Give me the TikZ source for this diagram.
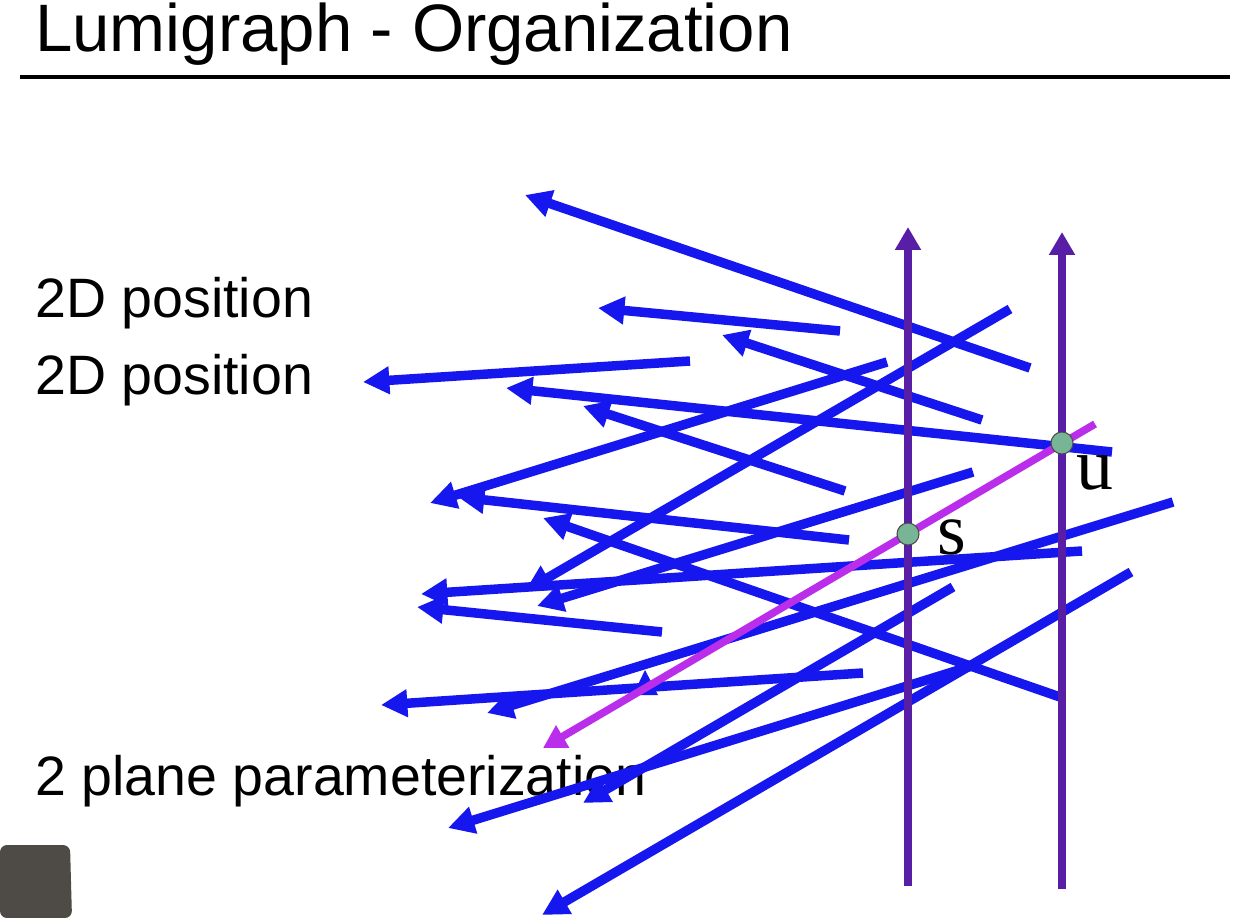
\documentclass[tikz,border=0pt]{standalone}
\usepackage{fontspec}
\setmainfont{Liberation Sans}
\newfontfamily\lfserif{Liberation Serif}
\usetikzlibrary{arrows.meta}
\definecolor{raycol}{RGB}{22,22,238}
\definecolor{planecol}{RGB}{88,30,165}
\definecolor{pickcol}{RGB}{185,45,235}
\definecolor{dotcol}{RGB}{120,180,150}
\definecolor{camcol}{RGB}{78,75,70}
\begin{document}
\begin{tikzpicture}[x=0.02cm, y=-0.02cm, line cap=butt,
    ray/.style={draw=raycol, line width=5.4pt, -{Triangle[length=15pt, width=15pt]}},
    plane/.style={draw=planecol, line width=4.8pt, -{Triangle[length=13pt, width=14pt]}},
    pick/.style={draw=pickcol, line width=4.3pt, -{Triangle[length=13pt, width=14pt]}},
    hit/.style={circle, fill=dotcol, draw=black!70, line width=0.6pt, minimum size=0.44cm, inner sep=0pt},
    label/.style={anchor=base west, inner sep=0pt, font=\fontsize{31.6}{36}\selectfont},
    letter/.style={anchor=base west, inner sep=0pt, font=\lfserif\fontsize{42}{46}\selectfont}]
    \useasboundingbox[fill=white] (0,0) rectangle (1243,918);
    % title and rule
    \node[anchor=base west, inner sep=0pt, font=\fontsize{38.2}{44}\selectfont] (title) at (35,52) {Lumigraph - Organization};
    \draw[line width=2.8pt] (20,77) -- (1230,77);
    % labels
    \node[label] (pos1) at (35,318) {2D position};
    \node[label] (pos2) at (35,395) {2D position};
    \node[label] (param) at (35,795) {2 plane parameterization};
    % light rays
    \foreach \i/\a/\b in {1/{1030,368}/{525,195}, 2/{840,331}/{598,308}, 3/{982,420}/{722,335},
        4/{690,361}/{363,382}, 5/{1112,452}/{506,388}, 6/{845,491}/{583,406},
        7/{887,362}/{430,503}, 8/{1010,309}/{525,591}, 9/{849,540}/{458,497},
        10/{973,472}/{537,606}, 11/{1082,551}/{421,594}, 12/{662,632}/{417,607},
        13/{1060,697}/{543,518}, 14/{1173,502}/{487,713}, 15/{863,673}/{381,705},
        16/{953,587}/{583,803}, 17/{975,665}/{448,828}, 18/{1131,572}/{542,915}}{
        \coordinate (t\i) at (\a);
        \coordinate (h\i) at (\b);
        \draw[ray] (t\i) -- (h\i);
    }
    \fill[raycol] (645,670) -- (658,695) -- (633,695) -- cycle;
    % the two planes
    \coordinate (sbot) at (908,886);
    \coordinate (stop) at (908,227);
    \coordinate (ubot) at (1062,889);
    \coordinate (utop) at (1062,232);
    \draw[plane] (sbot) -- (stop);
    \draw[plane] (ubot) -- (utop);
    % chosen ray through s and u
    \coordinate (ptail) at (1095,424);
    \coordinate (phead) at (543,748);
    \draw[pick] (ptail) -- (phead);
    \node[hit] (s) at (908,534) {};
    \node[hit] (u) at (1062,443) {};
    \node[letter] (slab) at (937,554) {s};
    \node[letter] (ulab) at (1076,489) {u};
    % camera overlay corner
    \fill[camcol, rounded corners=4pt] (0,845) -- (70,845) -- (72,918) -- (0,918) -- cycle;
\end{tikzpicture}
\end{document}
